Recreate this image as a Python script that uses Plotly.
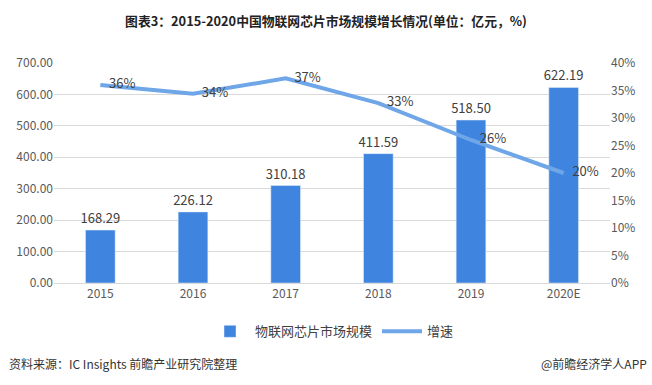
import plotly.graph_objects as go

categories = ["2015", "2016", "2017", "2018", "2019", "2020E"]
market_size = [168.29, 226.12, 310.18, 411.59, 518.50, 622.19]
growth = [0.36, 0.344, 0.372, 0.327, 0.26, 0.20]
growth_labels = ["36%", "34%", "37%", "33%", "26%", "20%"]
left_ticks = [0, 100, 200, 300, 400, 500, 600, 700]
right_ticks = [0, 0.05, 0.10, 0.15, 0.20, 0.25, 0.30, 0.35, 0.40]

FONT = "Noto Sans CJK SC, Microsoft YaHei, sans-serif"
TXT = "#404040"

fig = go.Figure()
fig.add_trace(go.Bar(
    x=categories, y=market_size, name="物联网芯片市场规模",
    marker_color="#3f85e0", width=0.32,
    text=[f"{v:.2f}" for v in market_size], textposition="outside",
    constraintext="none",
    textfont=dict(size=13, color=TXT, family=FONT), cliponaxis=False,
))
fig.add_trace(go.Scatter(
    x=categories, y=growth, name="增速", yaxis="y2", mode="lines+text",
    line=dict(color="#6ea6e8", width=4),
    text=["   " + s for s in growth_labels], textposition="middle right",
    textfont=dict(size=13, color=TXT, family=FONT), cliponaxis=False,
))

fig.update_layout(
    width=652, height=385,
    margin=dict(l=54, r=42, t=63, b=102),
    paper_bgcolor="white", plot_bgcolor="white",
    font=dict(family=FONT, color=TXT, size=12),
    title=dict(text="<b>图表3：2015-2020中国物联网芯片市场规模增长情况(单位：亿元，%)</b>",
               x=0.5, xanchor="center", y=0.945, yanchor="middle",
               font=dict(size=12.8, color="#222222", family=FONT)),
    xaxis=dict(showline=True, linecolor="#d9d9d9", ticks="", tickfont=dict(size=12, color="#595959")),
    yaxis=dict(range=[0, 700], tickvals=left_ticks, tickformat=".2f",
               showgrid=True, gridcolor="#d9d9d9", zeroline=False,
               tickfont=dict(size=12, color="#595959")),
    yaxis2=dict(range=[0, 0.4], tickvals=right_ticks, tickformat=".0%",
                overlaying="y", side="right", showgrid=False, zeroline=False,
                tickfont=dict(size=12, color="#595959")),
    legend=dict(orientation="h", x=0.5, xanchor="center", y=-0.22, yanchor="middle",
                font=dict(size=13, color=TXT), itemwidth=40),
    showlegend=True,
)

fig.add_annotation(text="资料来源：IC Insights 前瞻产业研究院整理", xref="paper", yref="paper",
                   x=-0.085, y=-0.365, xanchor="left", yanchor="middle", showarrow=False,
                   font=dict(size=12, color="#333333"))
fig.add_annotation(text="@前瞻经济学人APP", xref="paper", yref="paper",
                   x=1.07, y=-0.365, xanchor="right", yanchor="middle", showarrow=False,
                   font=dict(size=12, color="#333333"))

fig.write_html("out.html", config={"displayModeBar": False},
               post_script="document.body.style.margin='0';document.body.style.padding='0';")
